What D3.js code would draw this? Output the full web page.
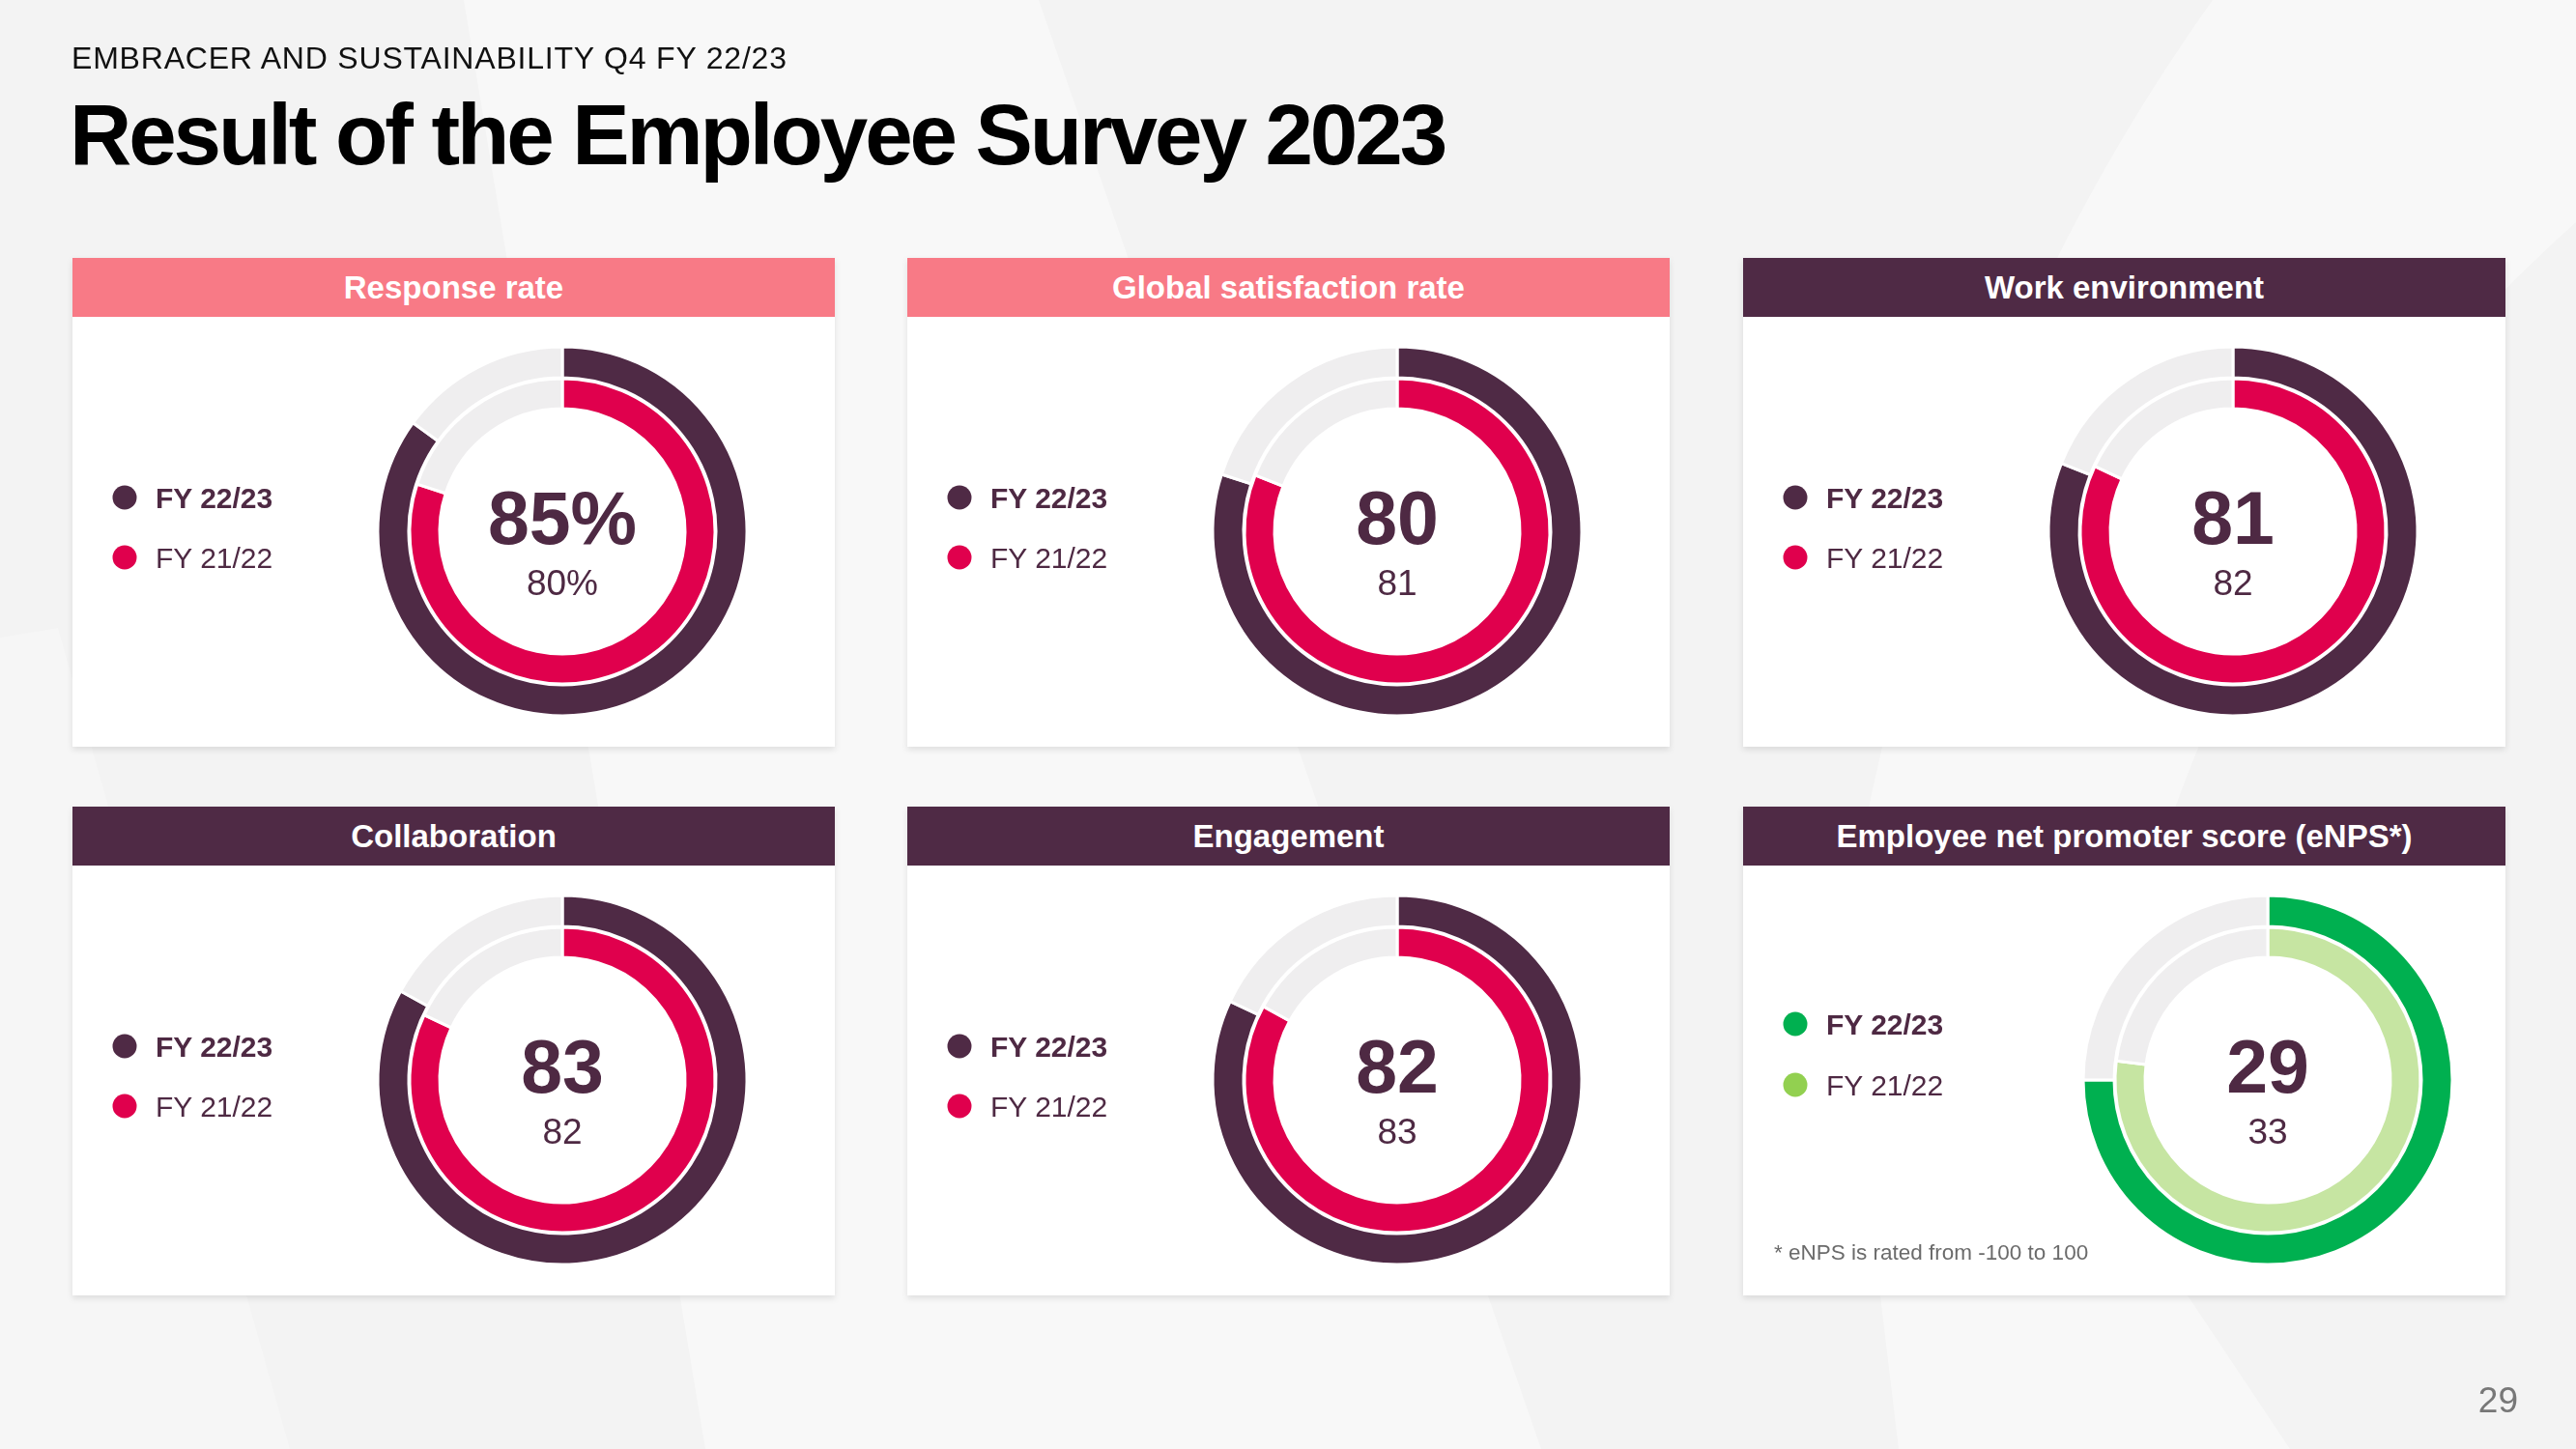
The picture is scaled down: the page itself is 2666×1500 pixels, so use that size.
<!DOCTYPE html>
<html>
<head>
<meta charset="utf-8">
<script src="https://cdn.jsdelivr.net/npm/d3@7"></script>
<style>
  html, body { margin: 0; padding: 0; background: #f3f3f3; }
  svg { display: block; font-family: "Liberation Sans", Arial, Helvetica, sans-serif; }
</style>
</head>
<body>
<script>
// ---------- DATA ----------
const kicker = "EMBRACER AND SUSTAINABILITY Q4 FY 22/23";
const pageTitle = "Result of the Employee Survey 2023";
const panelTitles = ["Response rate", "Global satisfaction rate", "Work environment",
                     "Collaboration", "Engagement", "Employee net promoter score (eNPS*)"];
const headerStyle = ["pink", "pink", "dark", "dark", "dark", "dark"];
const legendLabels = ["FY 22/23", "FY 21/22"];
const valuesFY2223 = [85, 80, 81, 83, 82, 29];
const valuesFY2122 = [80, 81, 82, 82, 83, 33];
const valueSuffix = ["%", "", "", "", "", ""];
// share of the ring that is filled, as drawn in the source (eNPS ring is not 1:1 with its score)
const ringShareFY2223 = [85, 80, 81, 83, 82, 75];
const ringShareFY2122 = [80, 81, 82, 82, 83, 77];
const palette = ["purple", "purple", "purple", "purple", "purple", "green"];
const footnote = "* eNPS is rated from -100 to 100";
const pageNumber = "29";

// ---------- STYLE ----------
const W = 2666, H = 1500;
const C = {
  bg: "#f3f3f3", pink: "#f87a86", dark: "#4f2a45", text: "#4e2943",
  red: "#e0004d", gray: "#efeeef", green: "#00b050", lightGreen: "#c6e5a2", legendLightGreen: "#92d050"
};
const ringColors = {
  purple: { outer: C.dark, inner: C.red, dotOuter: C.dark, dotInner: C.red },
  green: { outer: C.green, inner: C.lightGreen, dotOuter: C.green, dotInner: C.legendLightGreen }
};

const svg = d3.select("body").append("svg").attr("width", W).attr("height", H);

const defs = svg.append("defs");
const f = defs.append("filter").attr("id", "shadow").attr("x", "-5%").attr("y", "-5%").attr("width", "110%").attr("height", "115%");
f.append("feDropShadow").attr("dx", 0).attr("dy", 3).attr("stdDeviation", 3).attr("flood-color", "#000").attr("flood-opacity", 0.10);

// background + faint watermark shapes
svg.append("rect").attr("width", W).attr("height", H).attr("fill", C.bg);
const wm = svg.append("g").attr("fill", "#ffffff").attr("opacity", 0.45);
wm.append("path").attr("d", "M480,0 L1075,0 L1595,1500 L730,1500 Z");
wm.append("path").attr("d", "M1965,1500 L1905,1000 Q1990,420 2290,0 L2666,0 L2666,230 Q2230,620 2170,1200 L2370,1500 Z");
wm.append("path").attr("d", "M0,660 L60,650 L300,1500 L0,1500 Z").attr("opacity", 0.6);

function fitWidth(sel, target) {
  const n = sel.text().length;
  const w = sel.node().getComputedTextLength();
  sel.attr("letter-spacing", ((target - w) / (n - 1)).toFixed(2));
}

// titles
const k = svg.append("text").attr("x", 74).attr("y", 71).attr("font-size", 32).attr("fill", "#111").text(kicker);
fitWidth(k, 740);
const t = svg.append("text").attr("x", 72).attr("y", 170).attr("font-size", 89).attr("font-weight", 700).attr("fill", "#000").text(pageTitle);
fitWidth(t, 1426);

// ---------- PANELS ----------
const panelX = [75, 939, 1804];
const rowY = [267, 835];
const panelW = 789, headerH = 61, panelH = 506;

const pie = d3.pie().sort(null).value(d => d).startAngle(0).endAngle(2 * Math.PI);
const outerArc = d3.arc().innerRadius(159).outerRadius(191);
const innerArc = d3.arc().innerRadius(127).outerRadius(158);

panelTitles.forEach((title, i) => {
  const px = panelX[i % 3], py = rowY[Math.floor(i / 3)];
  const g = svg.append("g").attr("transform", `translate(${px},${py})`);
  g.append("rect").attr("x", 0).attr("y", 0).attr("width", panelW).attr("height", panelH)
    .attr("fill", "#fff").attr("filter", "url(#shadow)");
  g.append("rect").attr("x", 0).attr("y", 0).attr("width", panelW).attr("height", headerH)
    .attr("fill", headerStyle[i] === "pink" ? C.pink : C.dark);
  g.append("text").attr("x", panelW / 2).attr("y", 42).attr("text-anchor", "middle")
    .attr("font-size", 33).attr("font-weight", 700).attr("fill", "#fff").text(title);

  const isEnps = palette[i] === "green";
  const col = ringColors[palette[i]];
  const cx = isEnps ? 543 : 507, cy = 283;
  const donut = g.append("g").attr("transform", `translate(${cx},${cy})`);

  const outerData = pie([ringShareFY2223[i], 100 - ringShareFY2223[i]]);
  donut.selectAll("path.outer").data(outerData).join("path").attr("class", "outer")
    .attr("d", outerArc).attr("fill", (d, j) => j === 0 ? col.outer : C.gray)
    .attr("stroke", "#fff").attr("stroke-width", 3).attr("stroke-linejoin", "miter");
  const innerData = pie([ringShareFY2122[i], 100 - ringShareFY2122[i]]);
  donut.selectAll("path.inner").data(innerData).join("path").attr("class", "inner")
    .attr("d", innerArc).attr("fill", (d, j) => j === 0 ? col.inner : C.gray)
    .attr("stroke", "#fff").attr("stroke-width", 3).attr("stroke-linejoin", "miter");

  donut.append("text").attr("x", 0).attr("y", 13).attr("text-anchor", "middle")
    .attr("font-size", 77).attr("font-weight", 700).attr("fill", C.text)
    .text(valuesFY2223[i] + valueSuffix[i]);
  donut.append("text").attr("x", 0).attr("y", 66).attr("text-anchor", "middle")
    .attr("font-size", 37).attr("fill", C.text)
    .text(valuesFY2122[i] + valueSuffix[i]);

  // legend
  const legY = isEnps ? [cy - 58, cy + 5] : [cy - 35, cy + 27];
  legendLabels.forEach((lab, j) => {
    g.append("circle").attr("cx", 54).attr("cy", legY[j]).attr("r", 12.5)
      .attr("fill", j === 0 ? col.dotOuter : col.dotInner);
    g.append("text").attr("x", 86).attr("y", legY[j] + 11).attr("font-size", 30)
      .attr("font-weight", j === 0 ? 700 : 400).attr("fill", C.text).text(lab);
  });

  if (isEnps) {
    g.append("text").attr("x", 32).attr("y", 1304 - py).attr("font-size", 22.5)
      .attr("fill", "#6b6b6b").text(footnote);
  }
});

svg.append("text").attr("x", 2606).attr("y", 1462).attr("text-anchor", "end")
  .attr("font-size", 37).attr("fill", "#777").text(pageNumber);
</script>
</body>
</html>
